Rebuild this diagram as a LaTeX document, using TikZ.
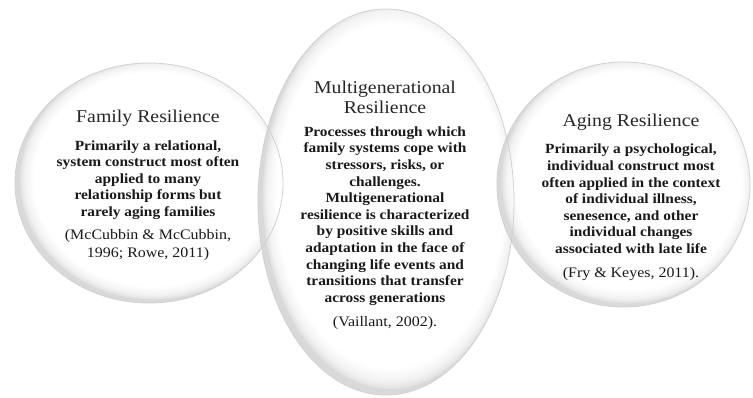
\documentclass[tikz,border=0pt]{standalone}
\usepackage{fontspec}
\setmainfont{Liberation Serif}[FakeStretch=1.1]
\usepackage{tikz}

% soft grey rim, a little heavier towards the lower left
\pgfdeclareradialshading{bubblerim}{\pgfpoint{1.5bp}{1.5bp}}{%
  color(0bp)=(white); color(22.3bp)=(white); color(24bp)=(black!5);
  color(24.8bp)=(black!11); color(25bp)=(black!15); color(50bp)=(black!15)}

\tikzset{
  bubble/.style={shading=bubblerim},
  rim/.style={draw=black!18, line width=0.8pt},
  headtext/.style={align=center, inner sep=0pt, font=\fontsize{18}{20}\selectfont, text=black!85},
  bodytext/.style={align=center, inner sep=0pt, font=\fontsize{14}{16.6}\selectfont\bfseries, text=black!90},
  citetext/.style={align=center, inner sep=0pt, font=\fontsize{14.5}{17.5}\selectfont, text=black!90}
}

\begin{document}
\begin{tikzpicture}[x=1pt, y=-1pt]

\fill[white] (0,0) rectangle (753,397);
\useasboundingbox (0,0) rectangle (753,397);

    %bubbles
    \shade[bubble] (149,183) ellipse [x radius=134, y radius=120];
    \shade[bubble] (386,202) ellipse [x radius=128, y radius=193];
    \shade[bubble] (623.5,184.5) ellipse [x radius=126.5, y radius=122.5];

    %outlines over everything
    \foreach \cx/\cy/\rx/\ry in {149/183/134/120, 386/202/128/193, 623.5/184.5/126.5/122.5}
        \draw[rim] (\cx,\cy) ellipse [x radius=\rx, y radius=\ry];

    %family
    \node[headtext] (famhead) at (148,118) {Family Resilience};
    \node[bodytext] (fambody) at (148,180) {Primarily a relational,\\system construct most often\\applied to many\\relationship forms but\\rarely aging families};
    \node[citetext] (famcite) at (148,245) {(McCubbin \& McCubbin,\\1996; Rowe, 2011)};

    %multigenerational
    \node[headtext] (multihead) at (385,97) {Multigenerational\\Resilience};
    \node[bodytext] (multibody) at (385,216) {Processes through which\\family systems cope with\\stressors, risks, or\\challenges.\\Multigenerational\\resilience is characterized\\by positive skills and\\adaptation in the face of\\changing life events and\\transitions that transfer\\across generations};
    \node[citetext] (multicite) at (385,323) {(Vaillant, 2002).};

    %aging
    \node[headtext] (aginghead) at (631,122) {Aging Resilience};
    \node[bodytext] (agingbody) at (631,199) {Primarily a psychological,\\individual construct most\\often applied in the context\\of individual illness,\\senesence, and other\\individual changes\\associated with late life};
    \node[citetext] (agingcite) at (631,274) {(Fry \& Keyes, 2011).};

\end{tikzpicture}
\end{document}
